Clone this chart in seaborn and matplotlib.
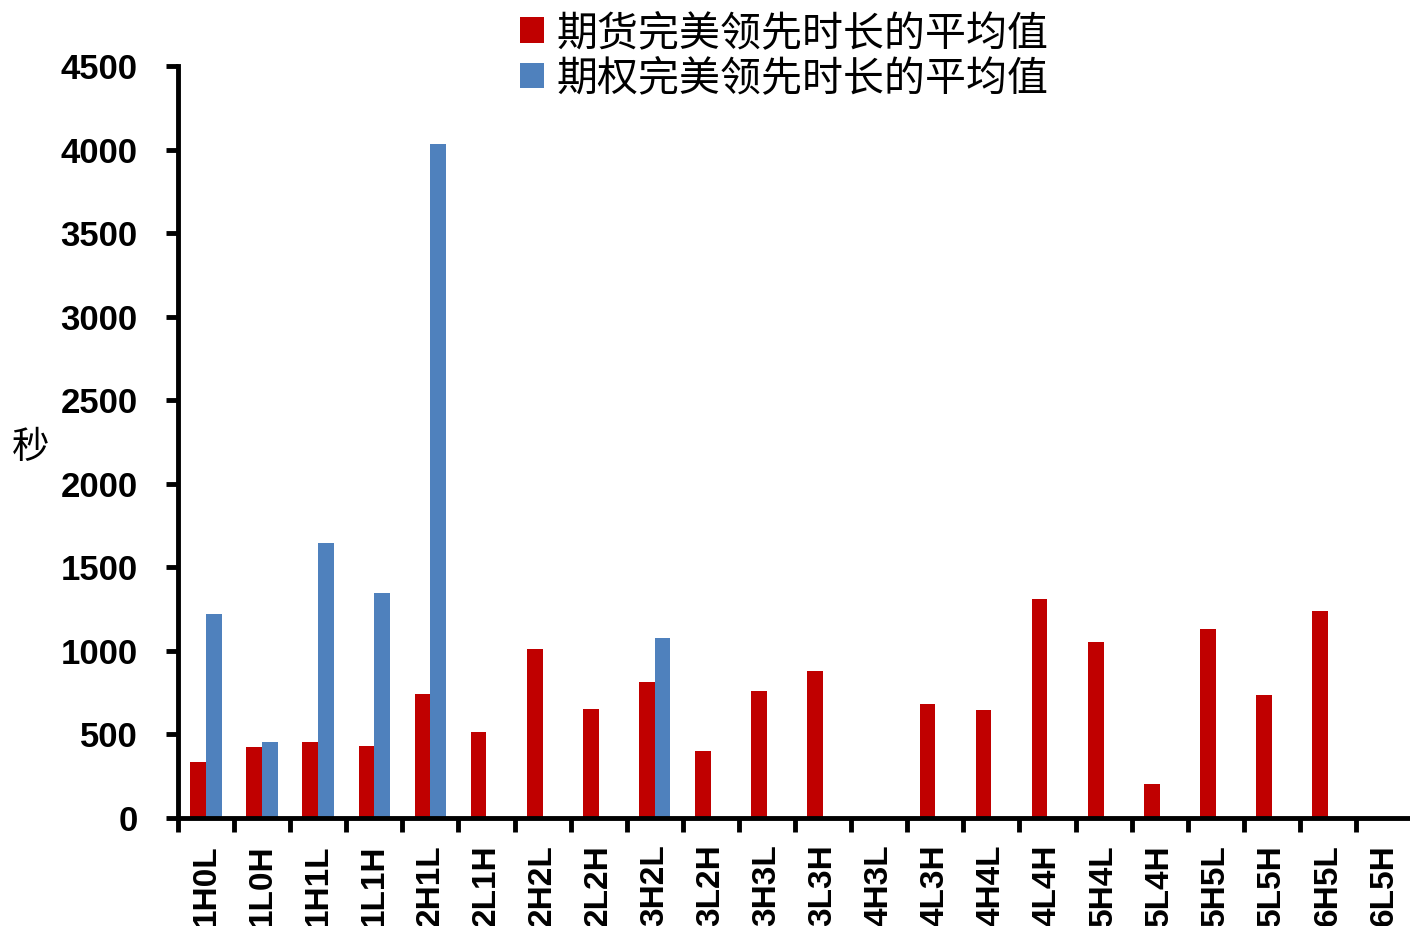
import numpy as np
import pandas as pd
import matplotlib
matplotlib.use("Agg")
import matplotlib.pyplot as plt
import seaborn as sns

# Order-book state categories
categories = ["1H0L", "1L0H", "1H1L", "1L1H", "2H1L", "2L1H", "2H2L", "2L2H",
              "3H2L", "3L2H", "3H3L", "3L3H", "4H3L", "4L3H", "4H4L", "4L4H",
              "5H4L", "5L4H", "5H5L", "5L5H", "6H5L", "6L5H"]

# Average perfect-lead duration (seconds); None = no observation
futures_lead = [335, 427, 453, 434, 742, 516, 1013, 650, 816, 399, 762, 880,
                None, 680, 644, 1312, 1051, 202, 1131, 734, 1241, None]
options_lead = [1221, 453, 1646, 1348, 4033, None, None, None, 1075, None, None, None,
                None, None, None, None, None, None, None, None, None, None]

series_names = ["期货完美领先时长的平均值", "期权完美领先时长的平均值"]
series_colors = ["#C00000", "#4F81BD"]
y_ticks = [0, 500, 1000, 1500, 2000, 2500, 3000, 3500, 4000, 4500]

rows = []
for cat, f, o in zip(categories, futures_lead, options_lead):
    if f is not None:
        rows.append({"state": cat, "series": series_names[0], "seconds": f})
    if o is not None:
        rows.append({"state": cat, "series": series_names[1], "seconds": o})
df = pd.DataFrame(rows)

sns.set_theme(style="white", rc={"text.color": "black", "axes.labelcolor": "black",
                                 "xtick.color": "black", "ytick.color": "black"})
plt.rcParams["font.family"] = ["Liberation Sans", "Noto Sans CJK SC", "DejaVu Sans"]

fig = plt.figure(figsize=(14.1, 9.26), dpi=100)
ax = fig.add_axes([0.1262, 0.1166, 0.8753, 0.8121])

sns.barplot(data=df, x="state", y="seconds", hue="series",
            order=categories, hue_order=series_names,
            palette=series_colors, width=0.56, gap=0,
            linewidth=0, saturation=1, ax=ax)

ax.set_xlim(-0.5, len(categories) - 0.5)
ax.set_ylim(0, 4500)
ax.set_yticks(y_ticks)
ax.set_yticklabels([str(v) for v in y_ticks], fontsize=25, fontweight="bold",
                   color="black")

# Boundary ticks between categories, labels at category centres
ax.set_xticks(np.arange(-0.5, len(categories), 1.0))
ax.set_xticklabels([])
ax.set_xticks(np.arange(len(categories)), minor=True)
ax.set_xticklabels(categories, minor=True, rotation=90, fontsize=24,
                   fontweight="bold", va="top", ha="center", color="black")
ax.tick_params(axis="x", which="minor", length=0, pad=19)
ax.tick_params(axis="x", which="major", length=10, width=3.5, direction="out",
               bottom=True, color="black")
ax.tick_params(axis="y", which="major", length=9, width=3.5, direction="out",
               left=True, pad=20, color="black")

for side in ["top", "right"]:
    ax.spines[side].set_visible(False)
for side in ["left", "bottom"]:
    ax.spines[side].set_linewidth(3.5)
    ax.spines[side].set_color("black")

ax.set_xlabel("")
ax.set_ylabel("秒", rotation=0, fontsize=27, family=["Noto Sans CJK SC"],
              va="center", ha="center", color="black")
ax.yaxis.set_label_coords(-0.119, 0.493)

handles, labels = ax.get_legend_handles_labels()
ax.get_legend().remove()
leg = fig.legend(handles, labels, loc="upper left", bbox_to_anchor=(0.357, 1.004),
                 frameon=False, prop={"family": "Noto Sans CJK SC", "size": 29.5},
                 handlelength=0.58, handleheight=0.58, handletextpad=0.32,
                 labelspacing=0.1, borderaxespad=0)
for t in leg.get_texts():
    t.set_color("black")

fig.savefig("out.png", dpi=100)
